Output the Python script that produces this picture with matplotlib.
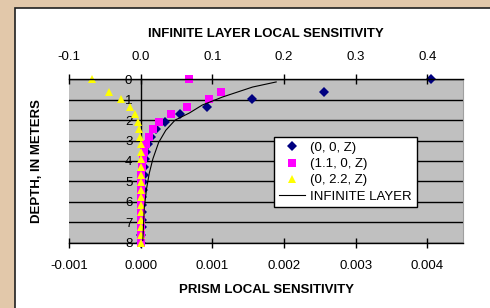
import matplotlib
matplotlib.use("Agg")
import matplotlib.pyplot as plt
from matplotlib.patches import Rectangle
from matplotlib.ticker import FormatStrFormatter

# Depths (m) shared by the three prism series.
depth = [0, 0.6, 0.97, 1.34, 1.71, 2.08, 2.45, 2.82, 3.19, 3.56, 3.93,
         4.30, 4.67, 5.04, 5.41, 5.78, 6.15, 6.52, 6.89, 7.26, 7.63, 8.0]

# Prism local sensitivity.
prism_0_0 = [0.00405, 0.00255, 0.00155, 0.00093, 0.00055, 0.00034, 0.00021,
             0.00014, 0.00010, 0.00008, 0.00006, 0.00005, 0.00004, 0.000035,
             0.00003, 0.000025, 0.00002, 0.00002, 0.000015, 0.000015,
             0.00001, 0.00001]
prism_11_0 = [0.00067, 0.00112, 0.00095, 0.00064, 0.00042, 0.00025, 0.00017,
              0.00011, 0.00007, 0.00004, 0.00003, 0.00002, 0.00001, 0.00001,
              0.000005, 0.000005, 0.0, 0.0, 0.0, 0.0, 0.0, 0.0]
prism_0_22 = [-0.000685, -0.00044, -0.000275, -0.00015, -0.000075, -0.00004,
              -0.00002, -0.00001, 0.0, 0.000005, 0.00001, 0.00001, 0.00001,
              0.00001, 0.00001, 0.00001, 0.00001, 0.00001, 0.00001, 0.00001,
              0.00001, 0.00001]

# Infinite layer curve (top axis units).
layer_depth = [0.13, 0.38, 0.87, 1.26, 1.65, 2.0, 2.5, 3.1, 3.9, 4.6, 5.4, 6.3, 7.9]
layer_sens = [0.189, 0.156, 0.114, 0.086, 0.068, 0.048, 0.035, 0.025, 0.017,
              0.012, 0.008, 0.005, 0.003]

bottom_ticks = [-0.001, 0.0, 0.001, 0.002, 0.003, 0.004]
top_ticks = [-0.1, 0.0, 0.1, 0.2, 0.3, 0.4]
depth_ticks = [0, 1, 2, 3, 4, 5, 6, 7, 8]

plt.rcParams["font.family"] = ["Liberation Sans", "DejaVu Sans"]
plt.rcParams["axes.unicode_minus"] = False
plt.rcParams["font.size"] = 9.5

W, H = 490, 308
fig = plt.figure(figsize=(W / 100, H / 100), dpi=100)
fig.patch.set_facecolor("#e2c8aa")
fig.patches.append(Rectangle((15 / W, -0.1), 1.0, 1.1 - 8 / H,
                             transform=fig.transFigure, facecolor="white",
                             edgecolor="#202020", linewidth=1.2, zorder=-10))

ax = fig.add_axes([69 / W, 1 - 242.5 / H, 394.3 / W, 163.2 / H])
ax.set_facecolor("#c0c0c0")
ax.set_xlim(-0.001, 0.0045)
ax.set_ylim(8, 0)
ax.set_xticks(bottom_ticks)
ax.xaxis.set_major_formatter(FormatStrFormatter("%.3f"))
ax.set_yticks(depth_ticks)
ax.yaxis.grid(True, color="black", linewidth=1)
ax.set_axisbelow(True)

ax.spines["left"].set_position(("data", 0))
ax.spines["left"].set_linewidth(1)
ax.spines["top"].set_visible(False)
ax.spines["right"].set_color("#a0a0a0")
ax.spines["bottom"].set_linewidth(1)
ax.tick_params(axis="x", direction="inout", length=7, width=1, pad=9)
ax.tick_params(axis="y", length=0, pad=6)

h1, = ax.plot(prism_0_0, depth, linestyle="none", marker="D", markersize=4.8,
              color="#000080", markeredgewidth=0, label="(0, 0, Z)",
              clip_on=False, zorder=3)
h2, = ax.plot(prism_11_0, depth, linestyle="none", marker="s", markersize=5.5,
              color="#ff00ff", markeredgewidth=0, label="(1.1, 0, Z)",
              clip_on=False, zorder=3)
h3, = ax.plot(prism_0_22, depth, linestyle="none", marker="^", markersize=6,
              color="#ffff00", markeredgewidth=0, label="(0, 2.2, Z)",
              clip_on=False, zorder=3)

ax.set_xlabel("PRISM LOCAL SENSITIVITY", fontweight="bold", labelpad=9)
ax.set_ylabel("DEPTH, IN METERS", fontweight="bold")
ax.yaxis.set_label_coords(-0.066, 0.5)

ax2 = ax.twiny()
ax2.set_xlim(-0.1, 0.45)
ax2.set_xticks(top_ticks)
ax2.xaxis.set_major_formatter(FormatStrFormatter("%.1f"))
for side in ["left", "right", "bottom"]:
    ax2.spines[side].set_visible(False)
ax2.spines["top"].set_linewidth(1)
ax2.tick_params(axis="x", direction="inout", length=7, width=1, pad=8)
h4, = ax2.plot(layer_sens, layer_depth, color="black", linewidth=0.8,
               label="INFINITE LAYER")
ax2.set_xlabel("INFINITE LAYER LOCAL SENSITIVITY", fontweight="bold", labelpad=10)

leg = ax2.legend(handles=[h1, h2, h3, h4], loc="upper left",
                 bbox_to_anchor=(0.52, 0.646), borderaxespad=0, fancybox=False,
                 framealpha=1, edgecolor="black", labelspacing=0.3,
                 handlelength=2, handletextpad=0.4, borderpad=0.35)
leg.get_frame().set_linewidth(1)

fig.savefig("out.png", dpi=100, facecolor=fig.get_facecolor())
